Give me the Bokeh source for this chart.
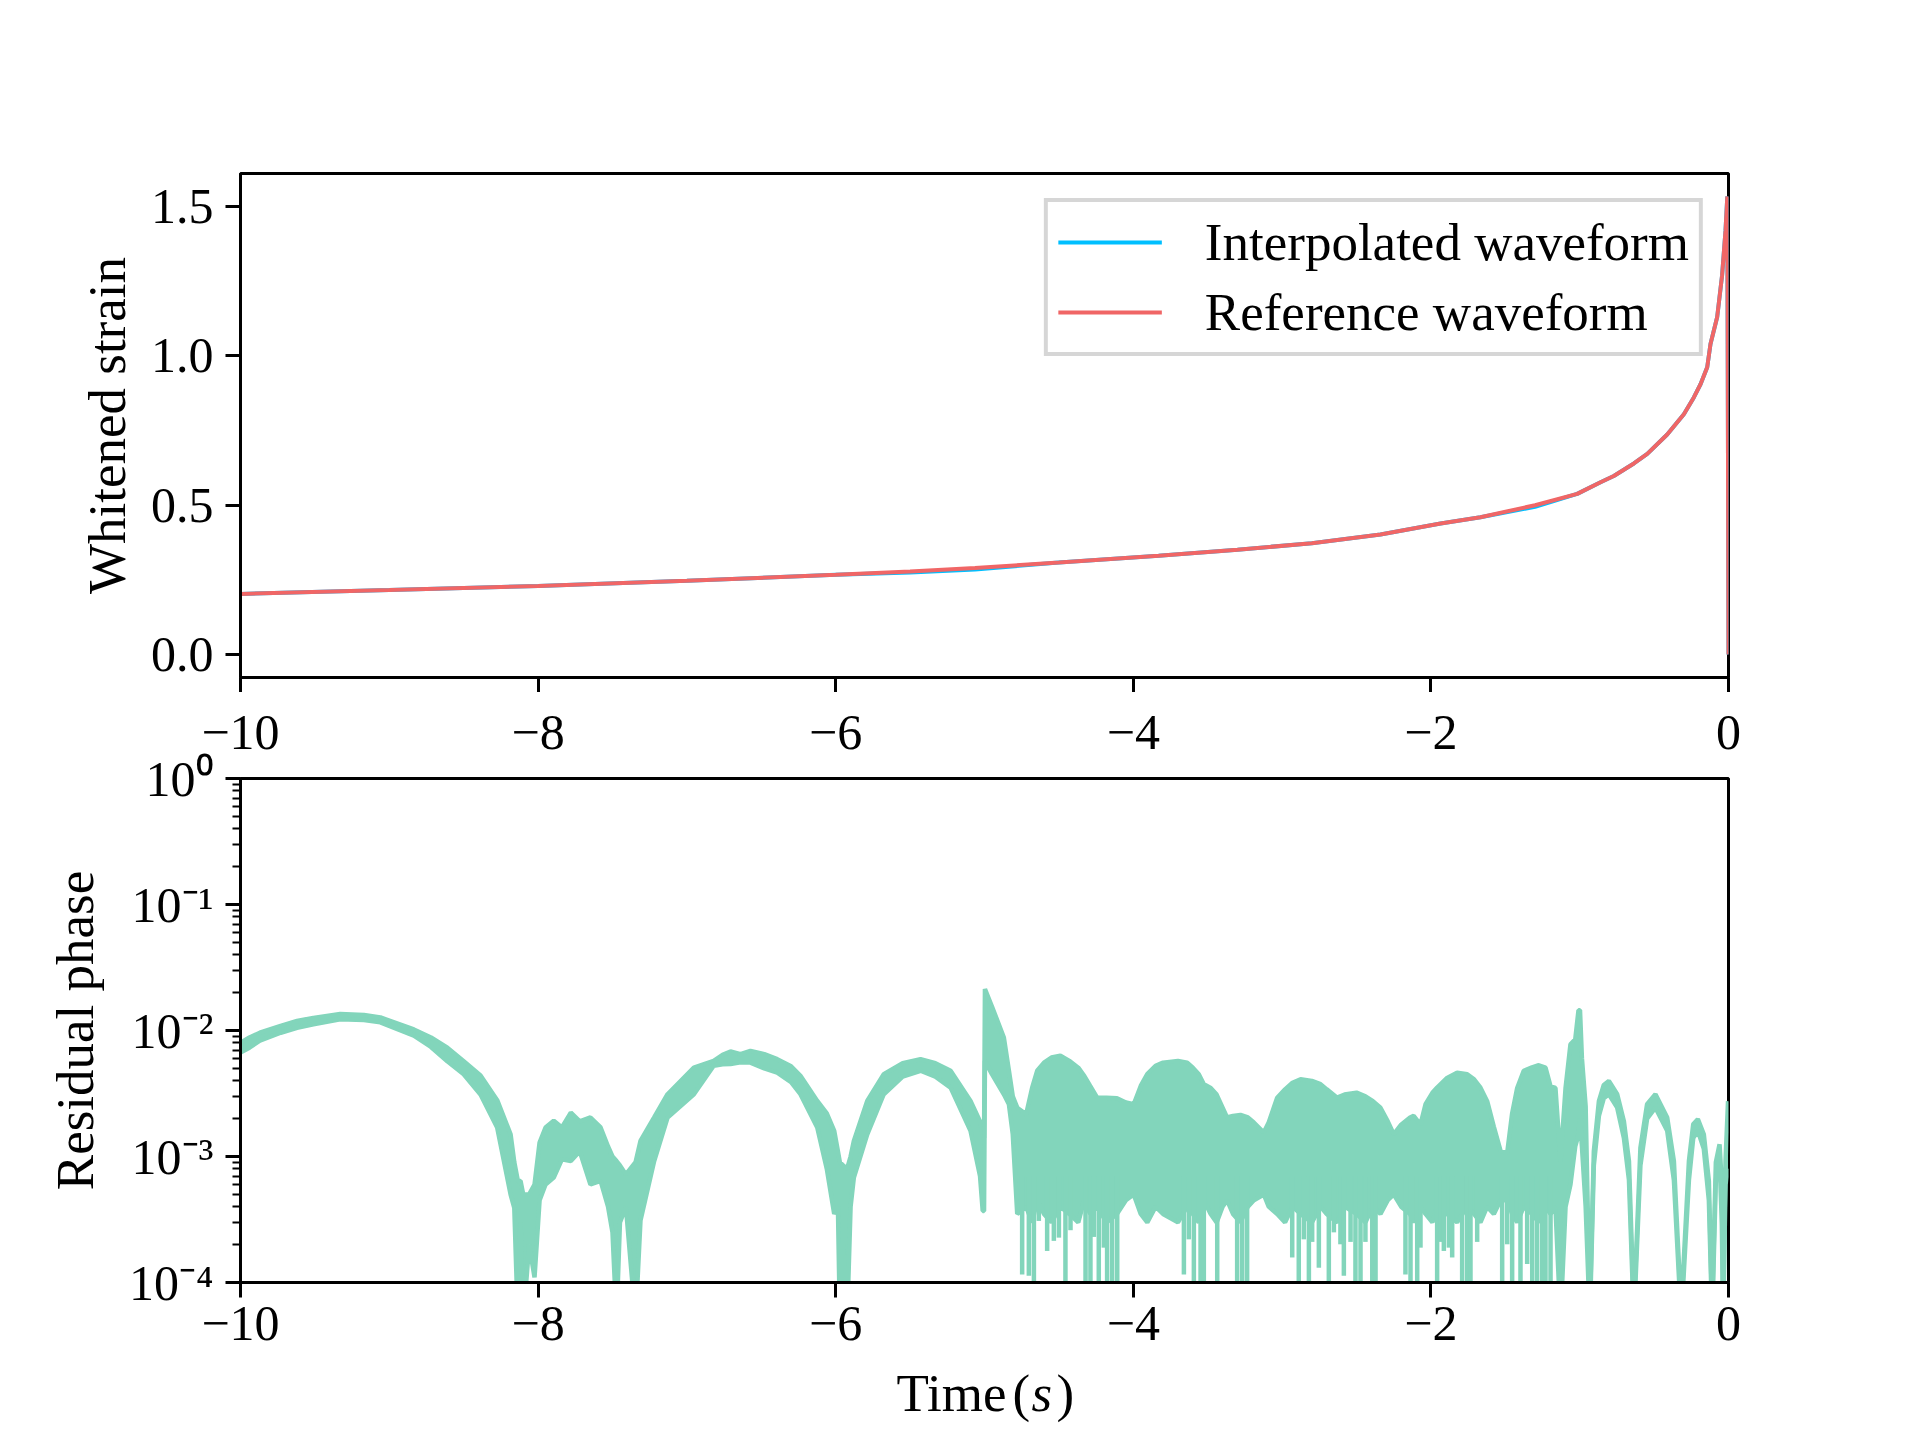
from bokeh.plotting import figure
from bokeh.models import (FixedTicker, LogTicker, CustomJSTickFormatter, NumeralTickFormatter,
                          Legend, LegendItem, Range1d, LinearAxis)
from bokeh.core.properties import value
from bokeh.layouts import column
from bokeh.embed import file_html
from bokeh.resources import INLINE

# ---------------- data ----------------
x_ticks = [-10, -8, -6, -4, -2, 0]
strain_ticks = [0.0, 0.5, 1.0, 1.5]

t_wave = [-10.0, -9.0, -8.0, -7.0, -6.0, -5.5, -5.064, -4.5, -3.83, -3.3, -2.8, -2.339,
          -1.935, -1.667, -1.3, -1.017, -0.86, -0.771, -0.636, -0.546, -0.412, -0.30,
          -0.233, -0.188, -0.143, -0.121, -0.076, -0.043, -0.02, -0.008, 0.0]
reference_wave = [0.203, 0.216, 0.230, 0.247, 0.267, 0.278, 0.290, 0.308, 0.331, 0.351, 0.373,
                  0.402, 0.439, 0.460, 0.500, 0.538, 0.577, 0.598, 0.640, 0.672, 0.737, 0.805,
                  0.861, 0.905, 0.962, 1.040, 1.130, 1.270, 1.420, 1.534, 0.0]
interpolated_wave = [0.203, 0.216, 0.230, 0.247, 0.267, 0.275, 0.285, 0.308, 0.331, 0.351, 0.373,
                     0.402, 0.439, 0.460, 0.495, 0.538, 0.577, 0.598, 0.640, 0.672, 0.737, 0.805,
                     0.861, 0.905, 0.962, 1.040, 1.130, 1.270, 1.420, 1.534, 0.0]

# residual phase band, section 1 (-10 s to the jump at -5 s and just after)
t_res_a = [-10.00, -9.94, -9.87, -9.73, -9.62, -9.51, -9.33, -9.17, -9.06, -8.835,
           -8.72, -8.61, -8.50, -8.387, -8.275, -8.185, -8.16, -8.136, -8.118, -8.100,
           -8.06, -8.024, -7.99, -7.95, -7.895, -7.84, -7.78, -7.72, -7.648, -7.58,
           -7.53, -7.50, -7.473, -7.45, -7.41, -7.345, -7.312, -7.22, -7.13, -6.953,
           -6.82, -6.76, -6.707, -6.64, -6.573, -6.48, -6.393, -6.30, -6.237, -6.124,
           -6.06, -6.01, -5.985, -5.972, -5.95, -5.923, -5.90, -5.878, -5.788, -5.677,
           -5.55, -5.43, -5.33, -5.228, -5.094, -5.03, -5.012, -5.003, -4.997, -4.95,
           -4.87, -4.836, -4.81]
hi_a = [8.0e-3, 8.8e-3, 9.6e-3, 1.09e-2, 1.19e-2, 1.26e-2, 1.35e-2, 1.33e-2, 1.27e-2, 1.02e-2,
        8.8e-3, 7.3e-3, 5.7e-3, 4.4e-3, 2.8e-3, 1.5e-3, 9.0e-4, 6.4e-4, 6.4e-4, 5.0e-4,
        5.0e-4, 6.0e-4, 1.29e-3, 1.7e-3, 1.92e-3, 1.7e-3, 2.23e-3, 1.9e-3, 2.04e-3, 1.7e-3,
        1.2e-3, 1.0e-3, 9.2e-4, 8.5e-4, 7.2e-4, 9.0e-4, 1.33e-3, 2.04e-3, 3.12e-3, 5.07e-3,
        5.74e-3, 6.4e-3, 6.81e-3, 6.5e-3, 6.89e-3, 6.5e-3, 5.92e-3, 5.2e-3, 4.37e-3, 2.76e-3,
        2.2e-3, 1.6e-3, 1.1e-3, 9.0e-4, 8.5e-4, 8.0e-4, 1.0e-3, 1.33e-3, 2.76e-3, 4.5e-3,
        5.5e-3, 5.92e-3, 5.5e-3, 4.79e-3, 2.76e-3, 1.9e-3, 1.5e-3, 1.4e-3, 2.13e-2, 1.55e-2,
        8.8e-3, 4.8e-3, 3.0e-3]
lo_a = [6.7e-3, 7.3e-3, 8.3e-3, 9.6e-3, 1.05e-2, 1.12e-2, 1.23e-2, 1.21e-2, 1.16e-2, 9.1e-3,
        7.4e-3, 5.7e-3, 4.5e-3, 3.1e-3, 1.7e-3, 5.0e-4, 3.9e-4, 5e-5, 3.0e-4, 5e-5,
        2.0e-4, 1.1e-4, 4.5e-4, 6.0e-4, 6.8e-4, 9.5e-4, 9.2e-4, 1.1e-3, 6.0e-4, 6.4e-4,
        4.0e-4, 2.5e-4, 5e-5, 3.0e-4, 4.0e-4, 5e-5, 3.1e-4, 9.2e-4, 2.04e-3, 3.12e-3,
        5.25e-3, 5.4e-3, 5.41e-3, 5.6e-3, 5.56e-3, 5.0e-3, 4.63e-3, 3.9e-3, 3.12e-3, 1.7e-3,
        8.0e-4, 3.5e-4, 4.0e-4, 5e-5, 2.0e-4, 5e-5, 4.0e-4, 6.8e-4, 1.5e-3, 3.12e-3,
        4.3e-3, 4.79e-3, 4.3e-3, 3.52e-3, 1.6e-3, 7.0e-4, 3.7e-4, 3.7e-4, 5.74e-3, 4.5e-3,
        3.12e-3, 2.6e-3, 1.5e-3]

# section 2: dense, fast-oscillating part (-4.8 s to -1.16 s)
t_res_b = [-4.78, -4.72, -4.68, -4.646, -4.60, -4.55, -4.49, -4.43, -4.37, -4.33,
           -4.29, -4.243, -4.18, -4.11, -4.05, -3.997, -3.95, -3.906, -3.85, -3.80,
           -3.70, -3.638, -3.60, -3.56, -3.526, -3.48, -3.44, -3.40, -3.37, -3.33,
           -3.28, -3.23, -3.19, -3.123, -3.09, -3.033, -2.98, -2.93, -2.876, -2.80,
           -2.742, -2.70, -2.63, -2.58, -2.50, -2.44, -2.39, -2.339, -2.29, -2.25,
           -2.20, -2.14, -2.116, -2.07, -2.036, -1.99, -1.958, -1.891, -1.824, -1.756,
           -1.71, -1.667, -1.622, -1.577, -1.532, -1.487, -1.454, -1.42, -1.376, -1.32,
           -1.275, -1.23, -1.196, -1.163]
hi_b = [2.44e-3, 2.16e-3, 3.5e-3, 4.79e-3, 5.56e-3, 6.1e-3, 6.31e-3, 5.74e-3, 5.07e-3, 4.37e-3,
        3.63e-3, 2.93e-3, 2.93e-3, 2.9e-3, 2.68e-3, 2.6e-3, 3.63e-3, 4.5e-3, 5.25e-3, 5.56e-3,
        5.74e-3, 5.56e-3, 5.07e-3, 4.5e-3, 3.75e-3, 3.5e-3, 3.1e-3, 2.44e-3, 2.04e-3, 2.1e-3,
        2.14e-3, 2.04e-3, 1.86e-3, 1.55e-3, 1.86e-3, 2.93e-3, 3.41e-3, 3.85e-3, 4.1e-3, 3.98e-3,
        3.75e-3, 3.41e-3, 2.93e-3, 3.1e-3, 3.21e-3, 3.0e-3, 2.75e-3, 2.44e-3, 1.9e-3, 1.5e-3,
        1.79e-3, 2.04e-3, 2.1e-3, 1.79e-3, 2.6e-3, 3.2e-3, 3.52e-3, 4.2e-3, 4.63e-3, 4.5e-3,
        4.1e-3, 3.52e-3, 2.75e-3, 1.72e-3, 1.11e-3, 1.07e-3, 2.2e-3, 3.5e-3, 4.79e-3, 5.1e-3,
        5.3e-3, 5.07e-3, 3.6e-3, 3.5e-3]
lo_b = [3.5e-4, 4.0e-4, 3.0e-4, 4.5e-4, 3.5e-4, 3.0e-4, 4.0e-4, 3.5e-4, 3.0e-4, 4.5e-4,
        3.5e-4, 4.0e-4, 3.0e-4, 3.5e-4, 4.5e-4, 5.0e-4, 3.5e-4, 3.0e-4, 4.0e-4, 3.5e-4,
        3.0e-4, 4.0e-4, 3.5e-4, 3.0e-4, 4.5e-4, 3.5e-4, 3.0e-4, 4.0e-4, 4.5e-4, 3.5e-4,
        3.0e-4, 4.0e-4, 4.5e-4, 5.0e-4, 4.0e-4, 3.5e-4, 3.0e-4, 4.0e-4, 3.5e-4, 3.0e-4,
        4.0e-4, 3.5e-4, 3.0e-4, 4.0e-4, 3.5e-4, 3.0e-4, 4.0e-4, 3.5e-4, 4.5e-4, 5.0e-4,
        4.0e-4, 3.5e-4, 3.0e-4, 4.0e-4, 3.5e-4, 3.0e-4, 4.0e-4, 3.5e-4, 3.0e-4, 4.0e-4,
        3.5e-4, 3.0e-4, 4.0e-4, 3.5e-4, 4.5e-4, 4.5e-4, 3.5e-4, 3.0e-4, 4.0e-4, 3.5e-4,
        3.0e-4, 4.0e-4, 3.5e-4, 4.0e-4]

# section 3: the last second (single thick line with arches)
t_res_c = [-1.129, -1.095, -1.062, -1.03, -1.008, -0.998, -0.985, -0.96, -0.932, -0.905,
           -0.871, -0.838, -0.804, -0.748, -0.703, -0.669, -0.636, -0.592, -0.547, -0.491,
           -0.412, -0.367, -0.318, -0.266, -0.237, -0.206, -0.166, -0.132, -0.110, -0.085,
           -0.060, -0.045, -0.036, -0.020, -0.003]
hi_c = [9.2e-4, 3.5e-3, 7.78e-3, 8.5e-3, 1.45e-2, 1.45e-2, 6.0e-3, 2.5e-3, 6e-5, 1.1e-3,
        2.75e-3, 3.7e-3, 3.98e-3, 3.12e-3, 1.9e-3, 9.2e-4, 6e-5, 1.17e-3, 2.6e-3, 3.12e-3,
        2.04e-3, 9.2e-4, 6e-5, 9.2e-4, 1.8e-3, 1.98e-3, 1.5e-3, 6.4e-4, 6e-5, 9.0e-4,
        1.25e-3, 6.0e-4, 6e-5, 9.2e-4, 2.75e-3]
lo_c = [5e-5, 4.0e-4, 6.0e-4, 1.2e-3, 1.5e-3, 2.0e-3, 1.2e-3, 4.0e-4, 5e-5, 8.5e-4,
        2.1e-3, 2.9e-3, 3.12e-3, 2.44e-3, 1.4e-3, 6.5e-4, 5e-5, 8.5e-4, 2.0e-3, 2.44e-3,
        1.6e-3, 6.5e-4, 5e-5, 6.5e-4, 1.4e-3, 1.6e-3, 1.15e-3, 4.5e-4, 5e-5, 6.5e-4,
        9.5e-4, 3.0e-4, 5e-5, 6.0e-4, 8.0e-4]

# narrow downward spikes inside the dense part of the band
spike_t = [-4.747, -4.702, -4.668, -4.635, -4.579, -4.534, -4.500, -4.456, -4.422, -4.321,
           -4.288, -4.265, -4.232, -4.198, -4.176, -4.142, -4.108, -3.660, -3.627, -3.593,
           -3.548, -3.526, -3.436, -3.302, -3.268, -3.235, -2.932, -2.888, -2.854, -2.820,
           -2.798, -2.753, -2.686, -2.652, -2.608, -2.585, -2.540, -2.507, -2.473, -2.440,
           -2.394, -2.372, -2.171, -2.137, -2.092, -2.070, -1.958, -1.935, -1.913, -1.879,
           -1.857, -1.790, -1.756, -1.734, -1.689, -1.521, -1.487, -1.454, -1.398, -1.353,
           -1.319, -1.286, -1.252, -1.230, -1.196]
spike_bottom = [1.16e-4, 1.13e-4, 5e-5, 3.08e-4, 1.78e-4, 2.14e-4, 2.27e-4, 5e-5, 2.6e-4, 5e-5,
                5e-5, 2.3e-4, 5e-5, 1.89e-4, 5e-5, 5e-5, 5e-5, 1.16e-4, 2.2e-4, 5e-5,
                5e-5, 5e-5, 5e-5, 5e-5, 5e-5, 5e-5, 1.58e-4, 5e-5, 2.2e-4, 5e-5,
                2.1e-4, 1.31e-4, 5e-5, 2.5e-4, 2.01e-4, 1.13e-4, 2.1e-4, 5e-5, 5e-5, 2.1e-4,
                5e-5, 5e-5, 1.16e-4, 5e-5, 5e-5, 1.89e-4, 5e-5, 2.1e-4, 1.78e-4, 1.89e-4,
                1.58e-4, 5e-5, 5e-5, 5e-5, 2.1e-4, 5e-5, 2.01e-4, 5e-5, 5e-5, 1.4e-4,
                5e-5, 5e-5, 5e-5, 5e-5, 5e-5]
spike_top = [7.0e-4] * len(spike_t)

t_res = t_res_a + t_res_b + t_res_c
res_hi = hi_a + hi_b + hi_c
res_lo = lo_a + lo_b + lo_c
assert len(t_res_a) == len(hi_a) == len(lo_a)
assert len(t_res_b) == len(hi_b) == len(lo_b)
assert len(t_res_c) == len(hi_c) == len(lo_c)
assert len(spike_t) == len(spike_bottom)

# x axis title pieces: "Time (s)" with an italic s
title_parts = ["Time", "(", "s", ")"]
title_x = [-5.591, -4.812, -4.684, -4.516]
title_styles = ["normal", "normal", "italic", "normal"]

# ---------------- styling ----------------
FONT = "Liberation Serif"
FS = "53px"
TICK_FS = "50px"
BLUE = "#00BFFF"
RED = "#F06666"
GREEN = "#82D5BB"

x_fmt_code = r"""return tick < 0 ? "\u2212" + Math.abs(tick) : String(tick);"""
log_fmt = CustomJSTickFormatter(code=r"""
const e = Math.round(Math.log10(tick));
const sup = {"-": "\u207B", "0": "\u2070", "1": "\u00B9", "2": "\u00B2", "3": "\u00B3",
             "4": "\u2074", "5": "\u2075", "6": "\u2076", "7": "\u2077", "8": "\u2078", "9": "\u2079"};
return "10" + String(e).split("").map((c) => sup[c]).join("");
""")


def style_axis(ax):
    ax.axis_line_width = 3
    ax.axis_line_color = "black"
    ax.major_tick_line_width = 3
    ax.major_tick_out = 15
    ax.major_tick_in = 0
    ax.minor_tick_line_width = 2
    ax.minor_tick_out = 8
    ax.minor_tick_in = 0
    ax.major_label_text_font = FONT
    ax.major_label_text_font_size = TICK_FS
    ax.major_label_text_color = "black"
    ax.major_label_standoff = 12
    ax.axis_label_text_font = FONT
    ax.axis_label_text_font_size = FS
    ax.axis_label_text_font_style = "normal"
    ax.axis_label_text_color = "black"
    ax.axis_label_standoff = 14


def style(p):
    p.grid.visible = False
    p.outline_line_color = "black"
    p.outline_line_width = 3
    p.background_fill_color = "white"
    p.border_fill_color = "white"
    style_axis(p.xaxis[0])
    style_axis(p.yaxis[0])
    p.xaxis.ticker = FixedTicker(ticks=x_ticks)


# ---------------- top panel ----------------
p1 = figure(title=None, x_range=Range1d(-10, 0), y_range=Range1d(-0.0767, 1.6107),
            frame_width=1488, frame_height=504,
            min_border_left=240, min_border_right=184, min_border_top=173, min_border_bottom=15,
            output_backend="svg", toolbar_location=None)
style(p1)
# tick marks only here; their labels are drawn just below, on top of the lower panel
p1.xaxis.formatter = CustomJSTickFormatter(code="return '';")
p1.xaxis.major_label_standoff = 0
p1.yaxis.ticker = FixedTicker(ticks=strain_ticks)
p1.yaxis.formatter = NumeralTickFormatter(format="0.0")
p1.yaxis.axis_label = "Whitened strain"
p1.yaxis.axis_label_standoff = 12

r_int = p1.line(t_wave, interpolated_wave, line_color=BLUE, line_width=4)
r_ref = p1.line(t_wave, reference_wave, line_color=RED, line_width=4)

legend = Legend(items=[LegendItem(label="Interpolated waveform", renderers=[r_int]),
                       LegendItem(label="Reference waveform", renderers=[r_ref])],
                location="top_right", margin=25, padding=10, spacing=10,
                glyph_width=104, glyph_height=40, label_standoff=43,
                label_text_font=FONT, label_text_font_size=FS, label_text_color="black",
                border_line_color="#cccccc", border_line_width=4, border_line_alpha=0.8,
                background_fill_color="white", background_fill_alpha=0.8)
p1.add_layout(legend)

# ---------------- bottom panel ----------------
p2 = figure(title=None, x_range=Range1d(-10, 0), y_range=Range1d(1e-4, 1.0), y_axis_type="log",
            frame_width=1488, frame_height=504,
            min_border_left=240, min_border_right=184, min_border_top=86, min_border_bottom=80,
            output_backend="svg", toolbar_location=None)
style(p2)
p2.xaxis.formatter = CustomJSTickFormatter(code=x_fmt_code)
p2.xaxis.major_label_standoff = 9
p2.yaxis.ticker = LogTicker(num_minor_ticks=10)
p2.yaxis.formatter = log_fmt
p2.yaxis.axis_label = "Residual phase"
p2.yaxis.axis_label_standoff = 22

# tick labels of the upper panel's time axis
top_labels = LinearAxis(ticker=FixedTicker(ticks=x_ticks),
                        formatter=CustomJSTickFormatter(code=x_fmt_code),
                        axis_line_color=None, major_tick_line_color=None, minor_tick_line_color=None,
                        major_tick_out=0, major_tick_in=0, major_label_standoff=30,
                        major_label_text_font=FONT, major_label_text_font_size=TICK_FS,
                        major_label_text_color="black")
p2.add_layout(top_labels, "above")

p2.varea(x=t_res, y1=res_lo, y2=res_hi, fill_color=GREEN)
p2.line(t_res, res_hi, line_color=GREEN, line_width=4.5)
p2.line(t_res, res_lo, line_color=GREEN, line_width=4.5)
p2.segment(x0=spike_t, y0=spike_top, x1=spike_t, y1=spike_bottom, line_color=GREEN, line_width=4.5)

# ---------------- x axis title strip ----------------
p3 = figure(title=None, x_range=Range1d(-10, 0), y_range=Range1d(0, 70),
            frame_width=1488, frame_height=70,
            min_border_left=240, min_border_right=184, min_border_top=0, min_border_bottom=0,
            x_axis_location=None, y_axis_location=None,
            output_backend="svg", toolbar_location=None)
p3.outline_line_color = None
p3.grid.visible = False
for part, px, st in zip(title_parts, title_x, title_styles):
    p3.text(x=[px], y=[40], text=[part], text_font=value(FONT), text_font_size=value(FS),
            text_font_style=st, text_align="left", text_baseline="middle", text_color="black")

layout = column(p1, p2, p3)
open("out.html", "w", encoding="utf-8").write(file_html(layout, INLINE))
